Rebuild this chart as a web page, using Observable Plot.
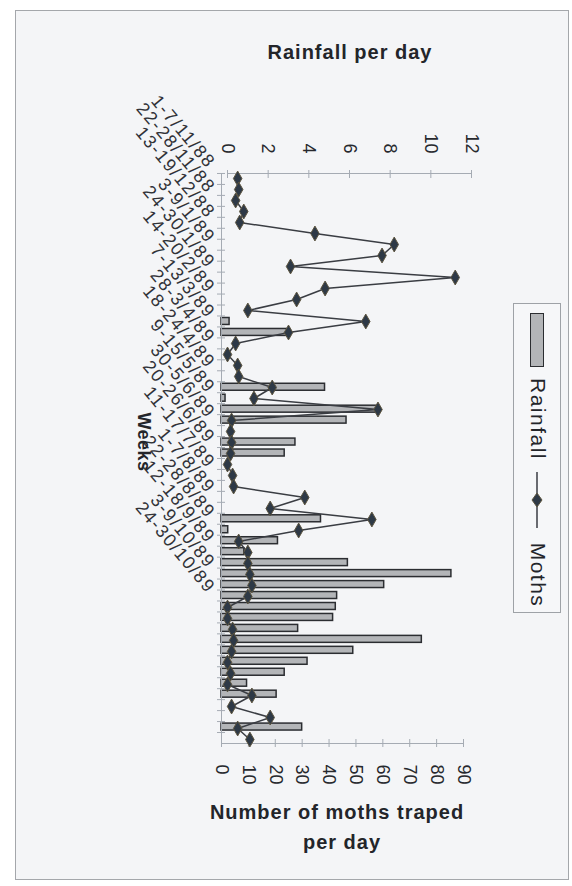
<!DOCTYPE html>
<html>
<head>
<meta charset="utf-8">
<script src="https://cdn.jsdelivr.net/npm/d3@7"></script>
<script src="https://cdn.jsdelivr.net/npm/@observablehq/plot@0.6"></script>
<style>
  html, body { margin: 0; padding: 0; background: #ffffff; }
  #chart { position: relative; width: 572px; height: 886px; overflow: hidden;
           font-family: "Liberation Sans", Arial, sans-serif; color: #23252a; }
  #chart svg.layer { position: absolute; left: 0; top: 0; }
  .panel { position: absolute; left: 15px; top: 10px; width: 552px; height: 868px;
           border: 1.5px solid #a4a7ab; background: #f4f5f7; }
  .title { position: absolute; font-weight: bold; font-size: 20px; line-height: 20px;
           letter-spacing: 1px; text-align: center; white-space: nowrap; }
  .rot { position: absolute; text-align: center; white-space: nowrap;
         transform: rotate(90deg); transform-origin: 50% 50%; }
  .legend { position: absolute; left: 513px; top: 303px; width: 46px; height: 308px;
            border: 1px solid #9ea2a7; background: #f6f7f9; }
</style>
</head>
<body>
<div id="chart"><div class="panel"></div></div>
<script>
// Weekly categories, 1 Nov 1988 to 30 Oct 1989
const weeks = [
  "1-7/11/88", "8-14/11/88", "15-21/11/88", "22-28/11/88", "29-5/12/88", "6-12/12/88",
  "13-19/12/88", "20-26/12/88", "27-2/1/89", "3-9/1/89", "10-16/1/89", "17-23/1/89",
  "24-30/1/89", "31-6/2/89", "7-13/2/89", "14-20/2/89", "21-27/2/89", "28-6/3/89",
  "7-13/3/89", "14-20/3/89", "21-27/3/89", "28-3/4/89", "4-10/4/89", "11-17/4/89",
  "18-24/4/89", "25-1/5/89", "2-8/5/89", "9-15/5/89", "16-22/5/89", "23-29/5/89",
  "30-5/6/89", "6-12/6/89", "13-19/6/89", "20-26/6/89", "27-3/7/89", "4-10/7/89",
  "11-17/7/89", "18-24/7/89", "25-31/7/89", "1-7/8/89", "8-14/8/89", "15-21/8/89",
  "22-28/8/89", "29-4/9/89", "5-11/9/89", "12-18/9/89", "19-25/9/89", "26-2/10/89",
  "3-9/10/89", "10-16/10/89", "17-23/10/89", "24-30/10/89"
];

// Week labels printed along the category axis
const weekLabels = [
  "1-7/11/88", "22-28/11/88", "13-19/12/88", "3-9/1/89", "24-30/1/89", "14-20/2/89",
  "7-13/3/89", "28-3/4/89", "18-24/4/89", "9-15/5/89", "30-5/6/89", "20-26/6/89",
  "11-17/7/89", "1-7/8/89", "22-28/8/89", "12-18/9/89", "3-9/10/89", "24-30/10/89"
];

// "Rainfall" series (bars, bottom axis 0-90)
const rainfall = [
  0, 0, 0, 0, 0, 0, 0, 0, 0, 0, 0, 0, 0, 3, 24.5, 0, 0, 0, 0, 38.5,
  1.5, 58, 46.5, 0, 27.5, 23.5, 0, 0, 0, 0, 0, 37, 2.5, 21, 8.5, 47,
  85.5, 60.5, 43, 42.5, 41.5, 28.5, 74.5, 49, 32, 23.5, 9.5, 20.5, 0, 0, 30, 0
];

// "Moths" series (line with diamonds, top axis 0-12)
const moths = [
  0.5, 0.55, 0.4, 0.8, 0.6, 4.3, 8.2, 7.6, 3.1, 11.2, 4.8, 3.4, 1.0, 6.8, 3.0, 0.4,
  0, 0.5, 0.55, 2.2, 1.3, 7.4, 0.2, 0.15, 0.2, 0.15, 0, 0.25, 0.3, 3.8, 2.1, 7.1,
  3.5, 0.55, 1.0, 1.0, 1.1, 1.2, 1.0, 0, 0, 0.25, 0.3, 0.2, 0, 0.15, 0, 1.2,
  0.2, 2.1, 0.5, 1.1
];

const topTicks = [0, 2, 4, 6, 8, 10, 12];
const bottomTicks = [0, 10, 20, 30, 40, 50, 60, 70, 80, 90];

const rows = weeks.map((week, i) => ({week, rain: rainfall[i], moths: moths[i]}));

const W = 572, H = 886;
const axisGray = "#a5abb3";
const ink = "#26282d";
const font = "Liberation Sans, Arial, sans-serif";
const chart = document.getElementById("chart");

function addLayer(svg) {
  svg.classList.add("layer");
  chart.appendChild(svg);
}

// Bars, category axis and the bottom value axis
addLayer(Plot.plot({
  width: W, height: H,
  marginTop: 173, marginBottom: 143, marginLeft: 221, marginRight: 109,
  style: {background: "transparent", overflow: "visible", fontFamily: font},
  x: {domain: [0, 90], label: null},
  y: {domain: weeks, padding: 0, label: null},
  marks: [
    Plot.barX(rows.filter(d => d.rain > 0), {
      y: "week", x: "rain", fill: "#b3b5b8", stroke: "#2b2d31", strokeWidth: 1.5,
      insetTop: 2, insetBottom: 2
    }),
    Plot.frame({anchor: "left", stroke: axisGray}),
    Plot.frame({anchor: "bottom", stroke: axisGray}),
    Plot.axisY({ticks: weeks, tickSize: 8, dx: 4, dy: -5.5, tickFormat: () => "", label: null, color: axisGray}),
    Plot.axisX({anchor: "bottom", ticks: bottomTicks, tickSize: 8, dy: -4, tickFormat: () => "", label: null, color: axisGray}),
    Plot.axisX({anchor: "bottom", ticks: bottomTicks, tickSize: 0, tickPadding: 21, tickRotate: 90,
                label: null, fontSize: 18, color: ink})
  ]
}));

// Line with diamonds and the top value axis
addLayer(Plot.plot({
  width: W, height: H,
  marginTop: 173, marginBottom: 143, marginLeft: 227, marginRight: 101,
  style: {background: "transparent", overflow: "visible", fontFamily: font},
  x: {domain: [0, 12], label: null},
  y: {domain: weeks, padding: 0, axis: null, label: null},
  marks: [
    Plot.frame({anchor: "top", stroke: axisGray}),
    Plot.axisX({anchor: "top", ticks: topTicks, tickSize: 8, dy: 4, tickFormat: () => "", label: null, color: axisGray}),
    Plot.axisX({anchor: "top", ticks: topTicks, tickSize: 0, tickPadding: 20, tickRotate: 90,
                label: null, fontSize: 18, color: ink}),
    Plot.line(rows, {y: "week", x: "moths", stroke: "#3a3d43", strokeWidth: 1.5}),
    Plot.dot(rows, {y: "week", x: "moths", symbol: "diamond", r: 4.5,
                    fill: "#2e3946", stroke: "#5d5540", strokeWidth: 1})
  ]
}));

// Slanted week labels
addLayer(Plot.plot({
  width: W, height: H,
  marginTop: 0, marginBottom: 0, marginLeft: 0, marginRight: 361,
  style: {background: "transparent", overflow: "visible", letterSpacing: "1.5px", fontFamily: font},
  y: {type: "point", domain: weekLabels, range: [160, 594], padding: 0, axis: null},
  marks: [
    Plot.text(weekLabels, {y: d => d, text: d => d, frameAnchor: "right", rotate: 50,
                           textAnchor: "end", fontSize: 18, fill: "#303237"})
  ]
}));

// Axis titles
function addDiv(cls, text, css) {
  const el = document.createElement("div");
  el.className = cls;
  el.textContent = text;
  Object.assign(el.style, css);
  chart.appendChild(el);
  return el;
}
addDiv("title", "Rainfall per day", {left: "250px", top: "42px", width: "200px"});
addDiv("title", "Number of moths traped", {left: "187px", top: "802px", width: "300px"});
addDiv("title", "per day", {left: "242px", top: "832px", width: "200px"});
addDiv("rot", "Weeks", {left: "94px", top: "430px", width: "100px", height: "24px",
  lineHeight: "24px", fontSize: "18px", fontWeight: "bold", letterSpacing: "0.5px"});

// Legend
const legend = document.createElement("div");
legend.className = "legend";
chart.appendChild(legend);
const sw = document.createElement("div");
Object.assign(sw.style, {position: "absolute", left: "530px", top: "313px", width: "14px", height: "54px",
  background: "#b3b5b8", border: "1.5px solid #2b2d31", boxSizing: "border-box"});
chart.appendChild(sw);
addDiv("rot", "Rainfall", {left: "488px", top: "407px", width: "100px", height: "24px",
  lineHeight: "24px", fontSize: "21px", letterSpacing: "1.5px"});
const key = document.createElementNS("http://www.w3.org/2000/svg", "svg");
key.setAttribute("width", "20");
key.setAttribute("height", "56");
Object.assign(key.style, {position: "absolute", left: "527px", top: "472px"});
key.innerHTML = '<line x1="10" y1="0" x2="10" y2="56" stroke="#3a3d43" stroke-width="1.5"/>' +
  '<path d="M10,21 L15,28 L10,35 L5,28 Z" fill="#2e3946" stroke="#5d5540"/>';
chart.appendChild(key);
addDiv("rot", "Moths", {left: "488px", top: "563px", width: "100px", height: "24px",
  lineHeight: "24px", fontSize: "21px", letterSpacing: "1.5px"});
</script>
</body>
</html>
